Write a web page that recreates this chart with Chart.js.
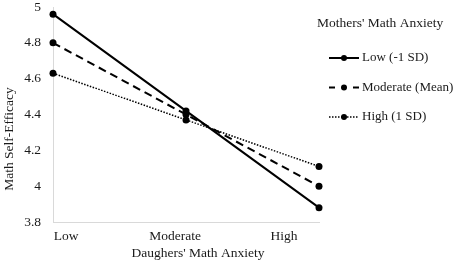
<!DOCTYPE html>
<html>
<head>
<meta charset="utf-8">
<script src="https://cdn.jsdelivr.net/npm/chart.js@4/dist/chart.umd.min.js"></script>
<style>
  body { margin: 0; background: #fff; }
  #wrap { width: 455px; height: 263px; }
</style>
</head>
<body>
<div id="wrap"><canvas id="myChart" width="455" height="263"></canvas></div>
<script>
// values
const categories = ["Low", "Moderate", "High"];
const seriesNames = ["Low (-1 SD)", "Moderate (Mean)", "High (1 SD)"];
const lowSD = [4.96, 4.42, 3.88];
const meanSD = [4.80, 4.40, 4.00];
const highSD = [4.63, 4.37, 4.11];
const yTicks = [3.8, 4, 4.2, 4.4, 4.6, 4.8, 5];

const xTitle = "Daughers' Math Anxiety";
const yTitle = "Math Self-Efficacy";
const legendTitle = "Mothers' Math Anxiety";

const FONT = '"Liberation Serif", "Times New Roman", serif';
const FSIZE = 13.5;
const TEXT = "#1a1a1a";

// axis titles + legend, drawn where the original has them
const extrasPlugin = {
  id: "extras",
  afterDraw(chart) {
    const ctx = chart.ctx;
    ctx.save();
    ctx.font = FSIZE + "px " + FONT;
    ctx.fillStyle = TEXT;
    ctx.textAlign = "center";
    ctx.textBaseline = "middle";
    ctx.fillText(xTitle, 198, 253);

    ctx.save();
    ctx.translate(9, 139);
    ctx.rotate(-Math.PI / 2);
    ctx.fillText(yTitle, 0, 0);
    ctx.restore();

    ctx.textAlign = "left";
    ctx.fillText(legendTitle, 317, 23);

    ctx.font = "13px " + FONT;
    chart.data.datasets.forEach((ds, i) => {
      const y = 58 + 29.5 * i;
      ctx.save();
      ctx.strokeStyle = ds.borderColor;
      ctx.lineWidth = ds.borderWidth;
      ctx.setLineDash(ds.legendDash || ds.borderDash || []);
      ctx.beginPath();
      ctx.moveTo(329, y);
      ctx.lineTo(359, y);
      ctx.stroke();
      ctx.setLineDash([]);
      ctx.fillStyle = ds.borderColor;
      ctx.beginPath();
      ctx.arc(344, y, 3, 0, Math.PI * 2);
      ctx.fill();
      ctx.restore();
      ctx.fillText(ds.label, 362, y);
    });
    ctx.restore();
  }
};

const ctx = document.getElementById("myChart").getContext("2d");
new Chart(ctx, {
  type: "line",
  data: {
    labels: categories,
    datasets: [
      { label: seriesNames[0], data: lowSD, borderColor: "#000", backgroundColor: "#000",
        borderWidth: 2, borderDash: [], pointRadius: 3.5, pointBorderWidth: 0 },
      { label: seriesNames[1], data: meanSD, borderColor: "#000", backgroundColor: "#000",
        borderWidth: 2, borderDash: [8, 5], legendDash: [6, 18], pointRadius: 3.5, pointBorderWidth: 0 },
      { label: seriesNames[2], data: highSD, borderColor: "#000", backgroundColor: "#000",
        borderWidth: 1.5, borderDash: [1.5, 1.5], pointRadius: 3.5, pointBorderWidth: 0 }
    ]
  },
  options: {
    responsive: false,
    animation: false,
    layout: { padding: { top: 7, right: 136, bottom: 0, left: 0 } },
    elements: { line: { tension: 0 } },
    plugins: { legend: { display: false }, tooltip: { enabled: false } },
    scales: {
      x: {
        type: "category",
        offset: false,
        weight: 0,
        grid: { display: false, drawTicks: false },
        border: { display: true, color: "#d9d9d9", width: 1 },
        ticks: { display: false },
        afterFit: s => { s.height = 0; }
      },
      // separate axis carries the category labels (they sit off the point positions in the original)
      xl: {
        type: "linear",
        position: "bottom",
        weight: 1,
        min: -0.12,
        max: 2.32,
        grid: { display: false, drawTicks: false },
        border: { display: false },
        afterBuildTicks: s => { s.ticks = categories.map((c, i) => ({ value: i })); },
        ticks: {
          padding: 6,
          maxRotation: 0,
          autoSkip: false,
          color: TEXT,
          font: { family: FONT, size: FSIZE },
          callback: v => categories[v]
        },
        afterFit: s => { s.height = 41; s.paddingLeft = 0; s.paddingRight = 0; }
      },
      y: {
        min: 3.8,
        max: 5,
        grid: { display: false, drawTicks: false },
        border: { display: true, color: "#d9d9d9", width: 1 },
        afterBuildTicks: s => { s.ticks = yTicks.map(v => ({ value: v })); },
        ticks: {
          padding: 12,
          color: TEXT,
          font: { family: FONT, size: FSIZE },
          callback: v => String(v)
        },
        afterFit: s => { s.width = 53; s.paddingTop = 0; s.paddingBottom = 0; }
      }
    }
  },
  plugins: [extrasPlugin]
});
</script>
</body>
</html>
